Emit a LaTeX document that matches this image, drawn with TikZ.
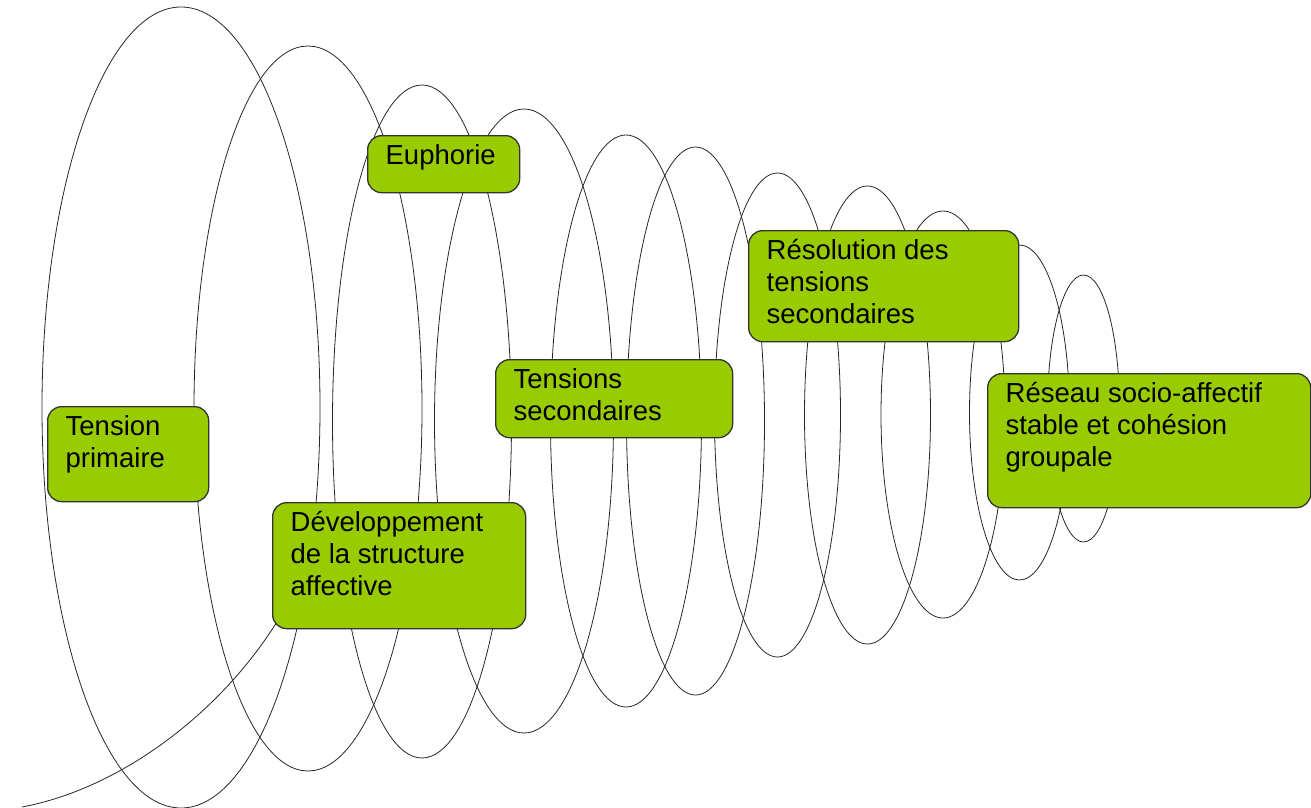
\documentclass[tikz,border=0pt]{standalone}
\usepackage{fontspec}
\setmainfont{Liberation Sans}
\usepackage{tikz}
\usepackage{xcolor}

\definecolor{stagegreen}{HTML}{99CC00}
\definecolor{stageline}{HTML}{333333}
\newcommand{\stagetext}[3]{\parbox[t][#2pt][t]{#1pt}{\strut #3}}

\begin{document}
\begin{tikzpicture}[x=1pt, y=-1pt,
        coil/.style={draw=black!85, line width=0.8pt},
        stage/.style={draw=stageline, fill=stagegreen, line width=1.3pt, rounded corners=14pt,
            anchor=north west, inner xsep=18pt, inner ysep=6pt, font=\fontsize{27.5}{32}\selectfont}]
            \useasboundingbox (0, 0) rectangle (1311, 808);

            \coordinate (start) at (22, 807);
            \coordinate (join) at (308, 560);
            \draw[coil] (start) .. controls (140, 785) and (262, 680) .. (join);

            \draw[coil] (181, 407.5) ellipse [x radius=139pt, y radius=400.5pt];
            \draw[coil] (308, 408.5) ellipse [x radius=114pt, y radius=362.5pt];
            \draw[coil] (422, 421.5) ellipse [x radius=89.5pt, y radius=336.5pt];
            \draw[coil] (524, 421) ellipse [x radius=89.5pt, y radius=312pt];
            \draw[coil] (626, 421) ellipse [x radius=75.5pt, y radius=286pt];
            \draw[coil] (695.5, 421) ellipse [x radius=69pt, y radius=274pt];
            \draw[coil] (777.5, 415) ellipse [x radius=63pt, y radius=242pt];
            \draw[coil] (867.5, 415) ellipse [x radius=63pt, y radius=229pt];
            \draw[coil] (943, 414.5) ellipse [x radius=62pt, y radius=203.5pt];
            \draw[coil] (1019.5, 412.5) ellipse [x radius=50pt, y radius=167.5pt];
            \draw[coil] (1083.5, 408.5) ellipse [x radius=36pt, y radius=133.5pt];

            \node[stage] (tension) at (47, 406) {\stagetext{125}{83}{Tension\\primaire}};
            \node[stage] (euphorie) at (367, 135) {\stagetext{116}{45}{Euphorie}};
            \node[stage] (developpement) at (272, 502) {\stagetext{217}{114}{Développement\\de la structure\\affective}};
            \node[stage] (tensions) at (495, 359) {\stagetext{201}{66}{Tensions\\secondaires}};
            \node[stage] (resolution) at (748, 230) {\stagetext{234}{99}{Résolution des\\tensions\\secondaires}};
            \node[stage] (reseau) at (987, 373) {\stagetext{287}{122}{Réseau socio-affectif\\stable et cohésion\\groupale}};
        \end{tikzpicture}
\end{document}
